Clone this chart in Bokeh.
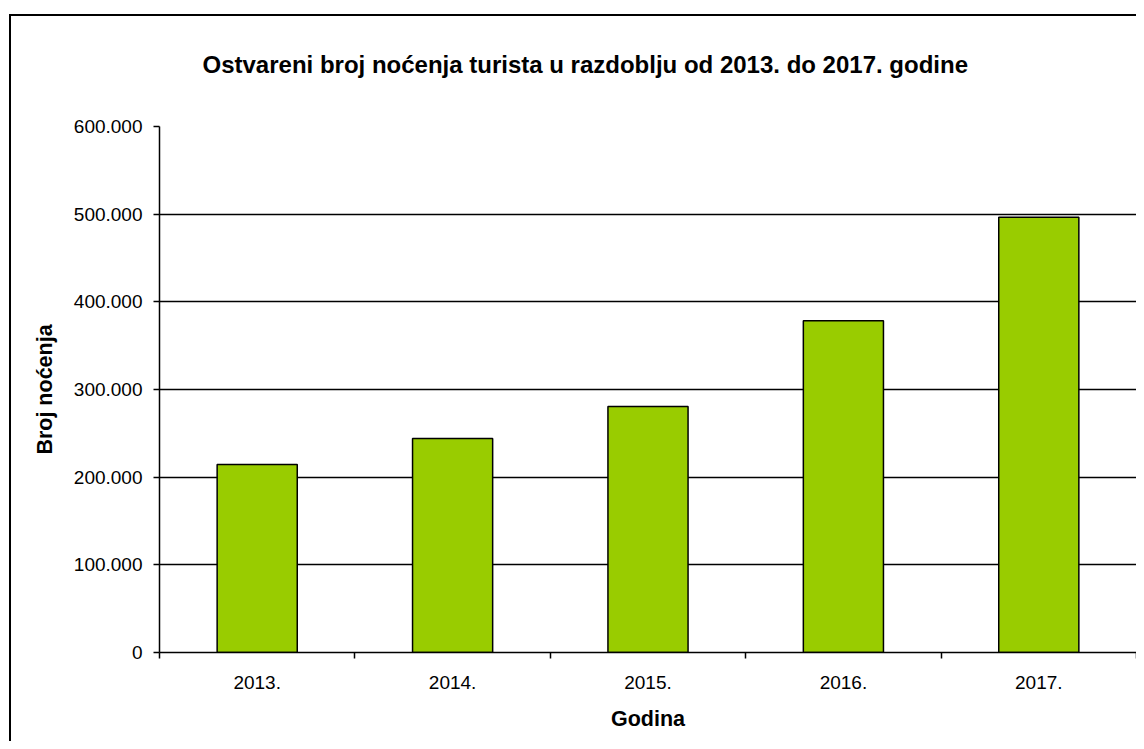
from bokeh.plotting import figure
from bokeh.models import (ColumnDataSource, FixedTicker, Grid, Title, Range1d, InlineStyleSheet)
from bokeh.embed import file_html
from bokeh.resources import INLINE

# ---- data ----
years = ["2013.", "2014.", "2015.", "2016.", "2017."]
nights = [214400, 244100, 280600, 378300, 496600]
y_ticks = [0, 100000, 200000, 300000, 400000, 500000, 600000]
title_text = "Ostvareni broj noćenja turista u razdoblju od 2013. do 2017. godine"
x_title = "Godina"
y_title = "Broj noćenja"

FONT = "Liberation Sans"

x_pos = [i + 0.5 for i in range(len(years))]
src = ColumnDataSource(dict(x=x_pos, top=nights, year=years))

border_css = InlineStyleSheet(css="""
:host::after {
  content: "";
  position: absolute;
  left: 9px; top: 14px; right: 0; bottom: 0;
  border-left: 2px solid black;
  border-top: 2px solid black;
  pointer-events: none;
  z-index: 100;
}
""")

p = figure(width=1136, height=741, output_backend="svg", toolbar_location=None,
           x_range=Range1d(0, len(years)), y_range=Range1d(0, y_ticks[-1]),
           min_border_left=159, min_border_right=0, min_border_top=126, min_border_bottom=89,
           stylesheets=[border_css])
p.outline_line_color = None
p.background_fill_color = "white"
p.border_fill_color = "white"

p.vbar(x="x", top="top", width=0.41, bottom=0, source=src,
       fill_color="#99CC00", line_color="black", line_width=1.5)

TICK_FS = "19px"
LAB_FS = "21.5px"

# y axis
ya = p.yaxis[0]
ya.ticker = FixedTicker(ticks=y_ticks)
ya.major_label_overrides = {v: (f"{v:,}".replace(",", ".")) for v in y_ticks}
ya.major_tick_out = 6
ya.major_tick_in = 0
ya.minor_tick_out = 0
ya.minor_tick_in = 0
ya.axis_line_color = "black"
ya.axis_line_width = 1.5
ya.major_tick_line_color = "black"
ya.major_tick_line_width = 1.5
ya.major_label_text_font = FONT
ya.major_label_text_font_size = TICK_FS
ya.major_label_text_color = "black"
ya.major_label_standoff = 11
ya.axis_label = y_title
ya.axis_label_text_font = FONT
ya.axis_label_text_font_style = "bold"
ya.axis_label_text_font_size = LAB_FS
ya.axis_label_text_color = "black"
ya.axis_label_standoff = 14

# x axis: labels at bar centres, ticks at category boundaries
xa = p.xaxis[0]
xa.ticker = FixedTicker(ticks=x_pos, minor_ticks=list(range(len(years) + 1)))
xa.major_label_overrides = {x: y for x, y in zip(x_pos, years)}
xa.major_tick_out = 0
xa.major_tick_in = 0
xa.minor_tick_out = 6
xa.minor_tick_in = 0
xa.minor_tick_line_color = "black"
xa.minor_tick_line_width = 1.5
xa.axis_line_color = "black"
xa.axis_line_width = 1.5
xa.major_label_text_font = FONT
xa.major_label_text_font_size = TICK_FS
xa.major_label_text_color = "black"
xa.major_label_standoff = 17
xa.axis_label = x_title
xa.axis_label_text_font = FONT
xa.axis_label_text_font_style = "bold"
xa.axis_label_text_font_size = LAB_FS
xa.axis_label_text_color = "black"
xa.axis_label_standoff = 15

# grids
p.xgrid.grid_line_color = None
p.ygrid.grid_line_color = None
p.add_layout(Grid(dimension=1, ticker=FixedTicker(ticks=y_ticks[:-1]),
                  grid_line_color="black", grid_line_width=1.5))
p.add_layout(Grid(dimension=1, ticker=FixedTicker(ticks=y_ticks[-1:]),
                  grid_line_color="#b0b0b0", grid_line_width=1.5))

# title
p.add_layout(Title(text=title_text, align="left", offset=43, standoff=97,
                   text_font=FONT, text_font_style="bold", text_font_size="24px",
                   text_color="black"), "above")

open("out.html", "w").write(file_html(p, INLINE))
